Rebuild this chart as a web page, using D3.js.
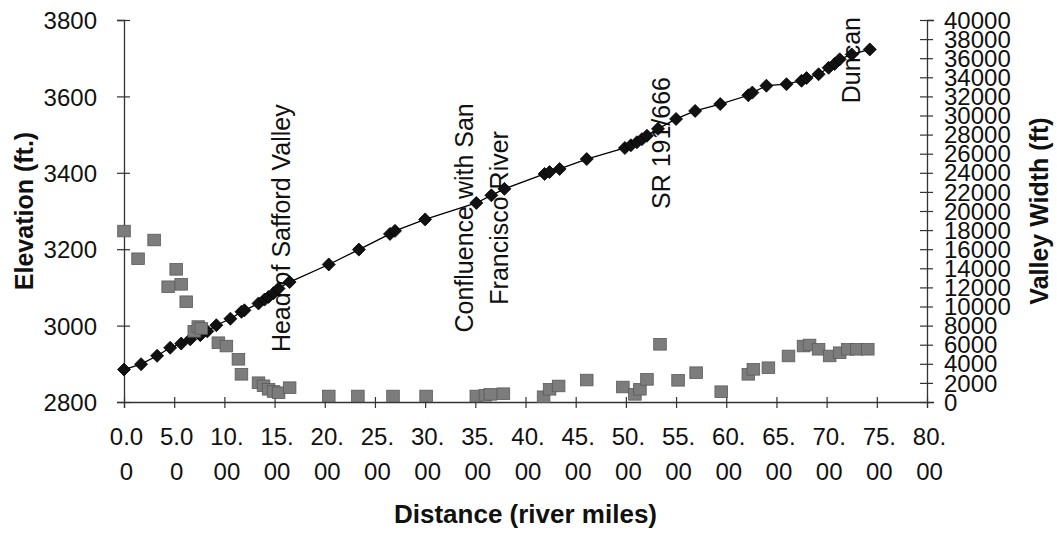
<!DOCTYPE html>
<html><head><meta charset="utf-8">
<script src="https://cdn.jsdelivr.net/npm/d3@7"></script>
<style>
html,body{margin:0;padding:0;background:#fff;}
svg{display:block;font-family:"Liberation Sans",Arial,sans-serif;}
</style></head>
<body>
<svg id="chart" width="1057" height="537"></svg>
<script>
// ---- data ----
const elevMiles = [0,1.7,3.3,4.6,5.7,6.6,7.6,8.3,9.2,10.6,11.7,12.0,13.4,14.0,14.4,14.9,15.4,16.5,20.4,23.4,26.5,27.0,30.0,35.1,36.6,37.9,41.9,42.4,43.4,46.1,49.9,50.5,51.1,51.6,52.1,53.2,55.0,56.9,59.4,62.2,62.6,64.0,66.0,67.5,68.0,69.2,70.2,70.8,71.3,72.5,74.3];
const elevFt    = [2885,2899,2921,2942,2953,2964,2975,2985,3001,3018,3036,3040,3058,3068,3075,3085,3097,3114,3160,3199,3240,3248,3278,3321,3341,3358,3397,3402,3410,3436,3465,3472,3480,3488,3497,3515,3541,3562,3580,3603,3610,3628,3632,3641,3648,3658,3675,3685,3697,3710,3723];
const widthMiles = [0,1.4,3.0,4.4,5.2,5.7,6.2,7.0,7.4,7.7,9.4,10.2,11.4,11.7,13.4,13.9,14.4,14.9,15.4,16.5,20.4,23.3,26.8,30.1,35.1,36.0,36.5,37.8,41.8,42.4,43.3,46.1,49.7,50.9,51.4,52.1,53.4,55.2,57.0,59.5,62.2,62.7,64.2,66.2,67.7,68.3,69.2,70.3,71.3,72.1,73.0,74.1];
const widthFt    = [17900,15000,16960,12070,13890,12320,10500,7400,7900,7700,6210,5860,4470,2900,2020,1700,1330,1100,970,1500,630,630,630,630,630,700,800,870,550,1330,1680,2300,1570,800,1330,2370,6040,2270,3070,1080,2900,3420,3590,4820,5860,5970,5520,4820,5160,5520,5520,5520];
const xTicks = [0,5,10,15,20,25,30,35,40,45,50,55,60,65,70,75,80];
const yTicks = [2800,3000,3200,3400,3600,3800];
const y2Ticks = d3.range(0,40001,2000);
const annoLines  = [["Head of Safford Valley"],["Confluence with San","Francisco River"],["SR 191/666"],["Duncan"]];
const annoMiles  = [16.5, 36.5, 54.4, 73.3];
const annoElev   = [3255, 3282, 3478, 3695];
const xTitle = "Distance (river miles)";
const yTitle = "Elevation (ft.)";
const y2Title = "Valley Width (ft)";

// ---- scales ----
const svg = d3.select("#chart");
const x = d3.scaleLinear().domain([0,80]).range([124,927]);
const y = d3.scaleLinear().domain([2800,3800]).range([402,20]);
const y2 = d3.scaleLinear().domain([0,40000]).range([402,20]);

const axisColor = "#333";

// ---- axes ----
const gx = svg.append("g").attr("transform",`translate(0,${y(2800)})`)
  .call(d3.axisBottom(x).tickValues(xTicks).tickSize(6).tickFormat(""));
gx.select(".domain").attr("stroke",axisColor).attr("stroke-width",1.3);
gx.selectAll(".tick line").attr("y1",-5).attr("y2",6).attr("stroke",axisColor).attr("stroke-width",1.2);
gx.selectAll(".tick").each(function(d){
  const s = d.toFixed(2);
  const t = d3.select(this).append("text").attr("fill","#111").attr("font-size",24)
    .attr("text-anchor","middle").attr("x",2);
  t.append("tspan").attr("x",2).attr("y",43).text(s.slice(0,3));
  t.append("tspan").attr("x",2).attr("y",78).text(s.slice(3));
});

const gy = svg.append("g").attr("transform",`translate(${x(0)},0)`)
  .call(d3.axisLeft(y).tickValues(yTicks).tickSize(7).tickPadding(20).tickFormat(d3.format("d")));
gy.select(".domain").attr("stroke",axisColor).attr("stroke-width",1.3);
gy.selectAll(".tick line").attr("x1",-7).attr("x2",6).attr("stroke",axisColor).attr("stroke-width",1.2);
gy.selectAll(".tick text").attr("font-size",24).attr("fill","#111").attr("font-family","Liberation Sans, Arial, sans-serif").attr("dy","0.36em");

const gy2 = svg.append("g").attr("transform",`translate(${x(80)},0)`)
  .call(d3.axisRight(y2).tickValues(y2Ticks).tickSize(7).tickPadding(10).tickFormat(d3.format("d")));
gy2.select(".domain").attr("stroke",axisColor).attr("stroke-width",1.3);
gy2.selectAll(".tick line").attr("x1",-7).attr("x2",6).attr("stroke",axisColor).attr("stroke-width",1.2);
gy2.selectAll(".tick text").attr("font-size",24).attr("fill","#111").attr("font-family","Liberation Sans, Arial, sans-serif").attr("dy","0.34em");

// ---- titles ----
svg.append("text").attr("x",(x(0)+x(80))/2).attr("y",523).attr("text-anchor","middle")
  .attr("font-size",26).attr("font-weight","bold").attr("fill","#111").text(xTitle);
svg.append("text").attr("transform",`translate(33,${(y(2800)+y(3800))/2}) rotate(-90)`).attr("text-anchor","middle")
  .attr("font-size",25).attr("font-weight","bold").attr("fill","#111").text(yTitle);
svg.append("text").attr("transform",`translate(1048,${(y(2800)+y(3800))/2}) rotate(-90)`).attr("text-anchor","middle")
  .attr("font-size",25).attr("font-weight","bold").attr("fill","#111").text(y2Title);

// ---- annotations (drawn under the series) ----
annoLines.forEach((lines,i)=>{
  const cx = x(annoMiles[i]), cy = y(annoElev[i]);
  const n = lines.length;
  lines.forEach((ln,j)=>{
    const bx = cx + (j-(n-1)/2)*35;
    svg.append("text").attr("transform",`translate(${bx},${cy}) rotate(-90)`)
      .attr("text-anchor","middle").attr("font-size",25).attr("fill","#111").text(ln);
  });
});

// ---- elevation series ----
const elevData = elevMiles.map((m,i)=>({m, v:elevFt[i]}));
svg.append("path").datum(elevData)
  .attr("fill","none").attr("stroke","#000").attr("stroke-width",1.3)
  .attr("d", d3.line().x(d=>x(d.m)).y(d=>y(d.v)));
const dia = 6.5;
svg.append("g").selectAll("path").data(elevData).join("path")
  .attr("transform",d=>`translate(${x(d.m)},${y(d.v)})`)
  .attr("d",`M0,${-dia}L${dia},0L0,${dia}L${-dia},0Z`)
  .attr("fill","#111").attr("stroke","#000").attr("stroke-width",0.8);

// ---- valley width series ----
const widthData = widthMiles.map((m,i)=>({m, v:widthFt[i]}));
const sq = 6.3;
svg.append("g").selectAll("rect").data(widthData).join("rect")
  .attr("x",d=>x(d.m)-sq).attr("y",d=>y2(d.v)-sq+0.5)
  .attr("width",sq*2).attr("height",sq*2-1)
  .attr("fill","#7c7c7c").attr("stroke","#5a5a5a").attr("stroke-width",0.8);
</script>
</body></html>
